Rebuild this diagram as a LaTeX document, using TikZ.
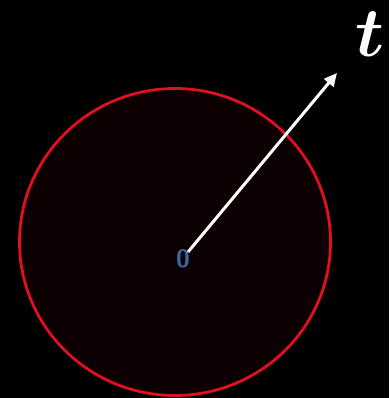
\RequirePackage{fix-cm}
\documentclass[tikz,border=0pt]{standalone}
\usetikzlibrary{arrows.meta}
\definecolor{ringred}{HTML}{E2101E}
\definecolor{discfill}{HTML}{0D0002}
\definecolor{originblue}{HTML}{3E67A0}
\begin{document}
\begin{tikzpicture}[
  x=1pt, y=1pt,
  ring/.style={draw=ringred, line width=2.8pt, fill=discfill},
  arrow/.style={-{Triangle[length=13pt,width=12pt]}, line width=3pt, draw=white},
  label/.style={inner sep=0pt, text=#1}
]
  \fill[black] (0,0) rectangle (389,398);
  \useasboundingbox (0,0) rectangle (389,398);

  \draw[ring] (175,156) ellipse [x radius=155.5, y radius=153.5];

  \node[label=originblue, font=\sffamily\bfseries\fontsize{25}{25}\selectfont] (origin) at (183,139) {0};
  \node[label=white, font=\fontsize{70}{70}\selectfont\boldmath] (t) at (370,364) {$t$};

  \coordinate (start) at (188,146);
  \coordinate (tip) at (337,325);
  \draw[arrow] (start) -- (tip);
\end{tikzpicture}
\end{document}
